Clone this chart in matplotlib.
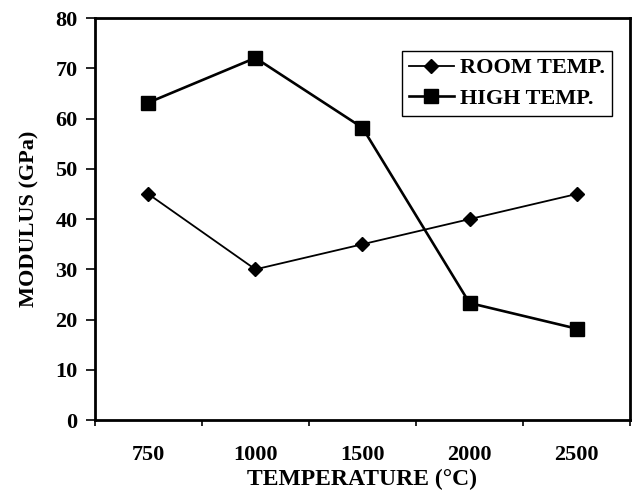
import matplotlib.pyplot as plt
import numpy as np

temps = ['750', '1000', '1500', '2000', '2500']
room_temp = [45, 30, 35, 40, 45]
high_temp = [63.2, 72.1, 58.2, 23.3, 18.2]

plt.rcParams['font.family'] = ['Liberation Serif', 'DejaVu Serif']
plt.rcParams['font.weight'] = 'bold'

fig = plt.figure(figsize=(6.32, 4.93), dpi=100)
ax = fig.add_axes([0.150, 0.148, 0.847, 0.815])

x = np.arange(len(temps))
ax.plot(x, room_temp, color='black', linewidth=1.3, marker='D', markersize=7.5,
        label='ROOM TEMP.')
ax.plot(x, high_temp, color='black', linewidth=1.9, marker='s', markersize=10,
        label='HIGH TEMP.')

ax.set_xlim(-0.5, len(temps) - 0.5)
ax.set_ylim(0, 80)
ax.set_yticks(range(0, 81, 10))

# ticks sit on the category boundaries, labels in the middle
ax.set_xticks(np.arange(-0.5, len(temps), 1.0))
ax.set_xticklabels([])
ax.set_xticks(x, minor=True)
ax.set_xticklabels(temps, minor=True, fontsize=16, fontweight='bold')
ax.tick_params(axis='x', which='minor', length=0, pad=18)
ax.tick_params(axis='x', which='major', length=4, width=1.2, direction='out')
ax.tick_params(axis='y', length=6.5, width=1.2, direction='out', labelsize=16, pad=6)
for lbl in ax.get_yticklabels():
    lbl.set_fontweight('bold')

for side in ['left', 'bottom', 'top', 'right']:
    ax.spines[side].set_linewidth(2)

ax.set_xlabel('TEMPERATURE (°C)', fontsize=17, fontweight='bold', labelpad=3)
ax.set_ylabel('MODULUS (GPa)', fontsize=16, fontweight='bold', labelpad=11)

leg = ax.legend(loc='upper right', bbox_to_anchor=(0.966, 0.918), borderaxespad=0,
                fancybox=False, edgecolor='black', framealpha=1,
                prop={'size': 16, 'weight': 'bold'},
                handlelength=2.0, handletextpad=0.3, borderpad=0.3, labelspacing=0.45)
leg.get_frame().set_linewidth(1)

plt.savefig('out.png', dpi=100)
